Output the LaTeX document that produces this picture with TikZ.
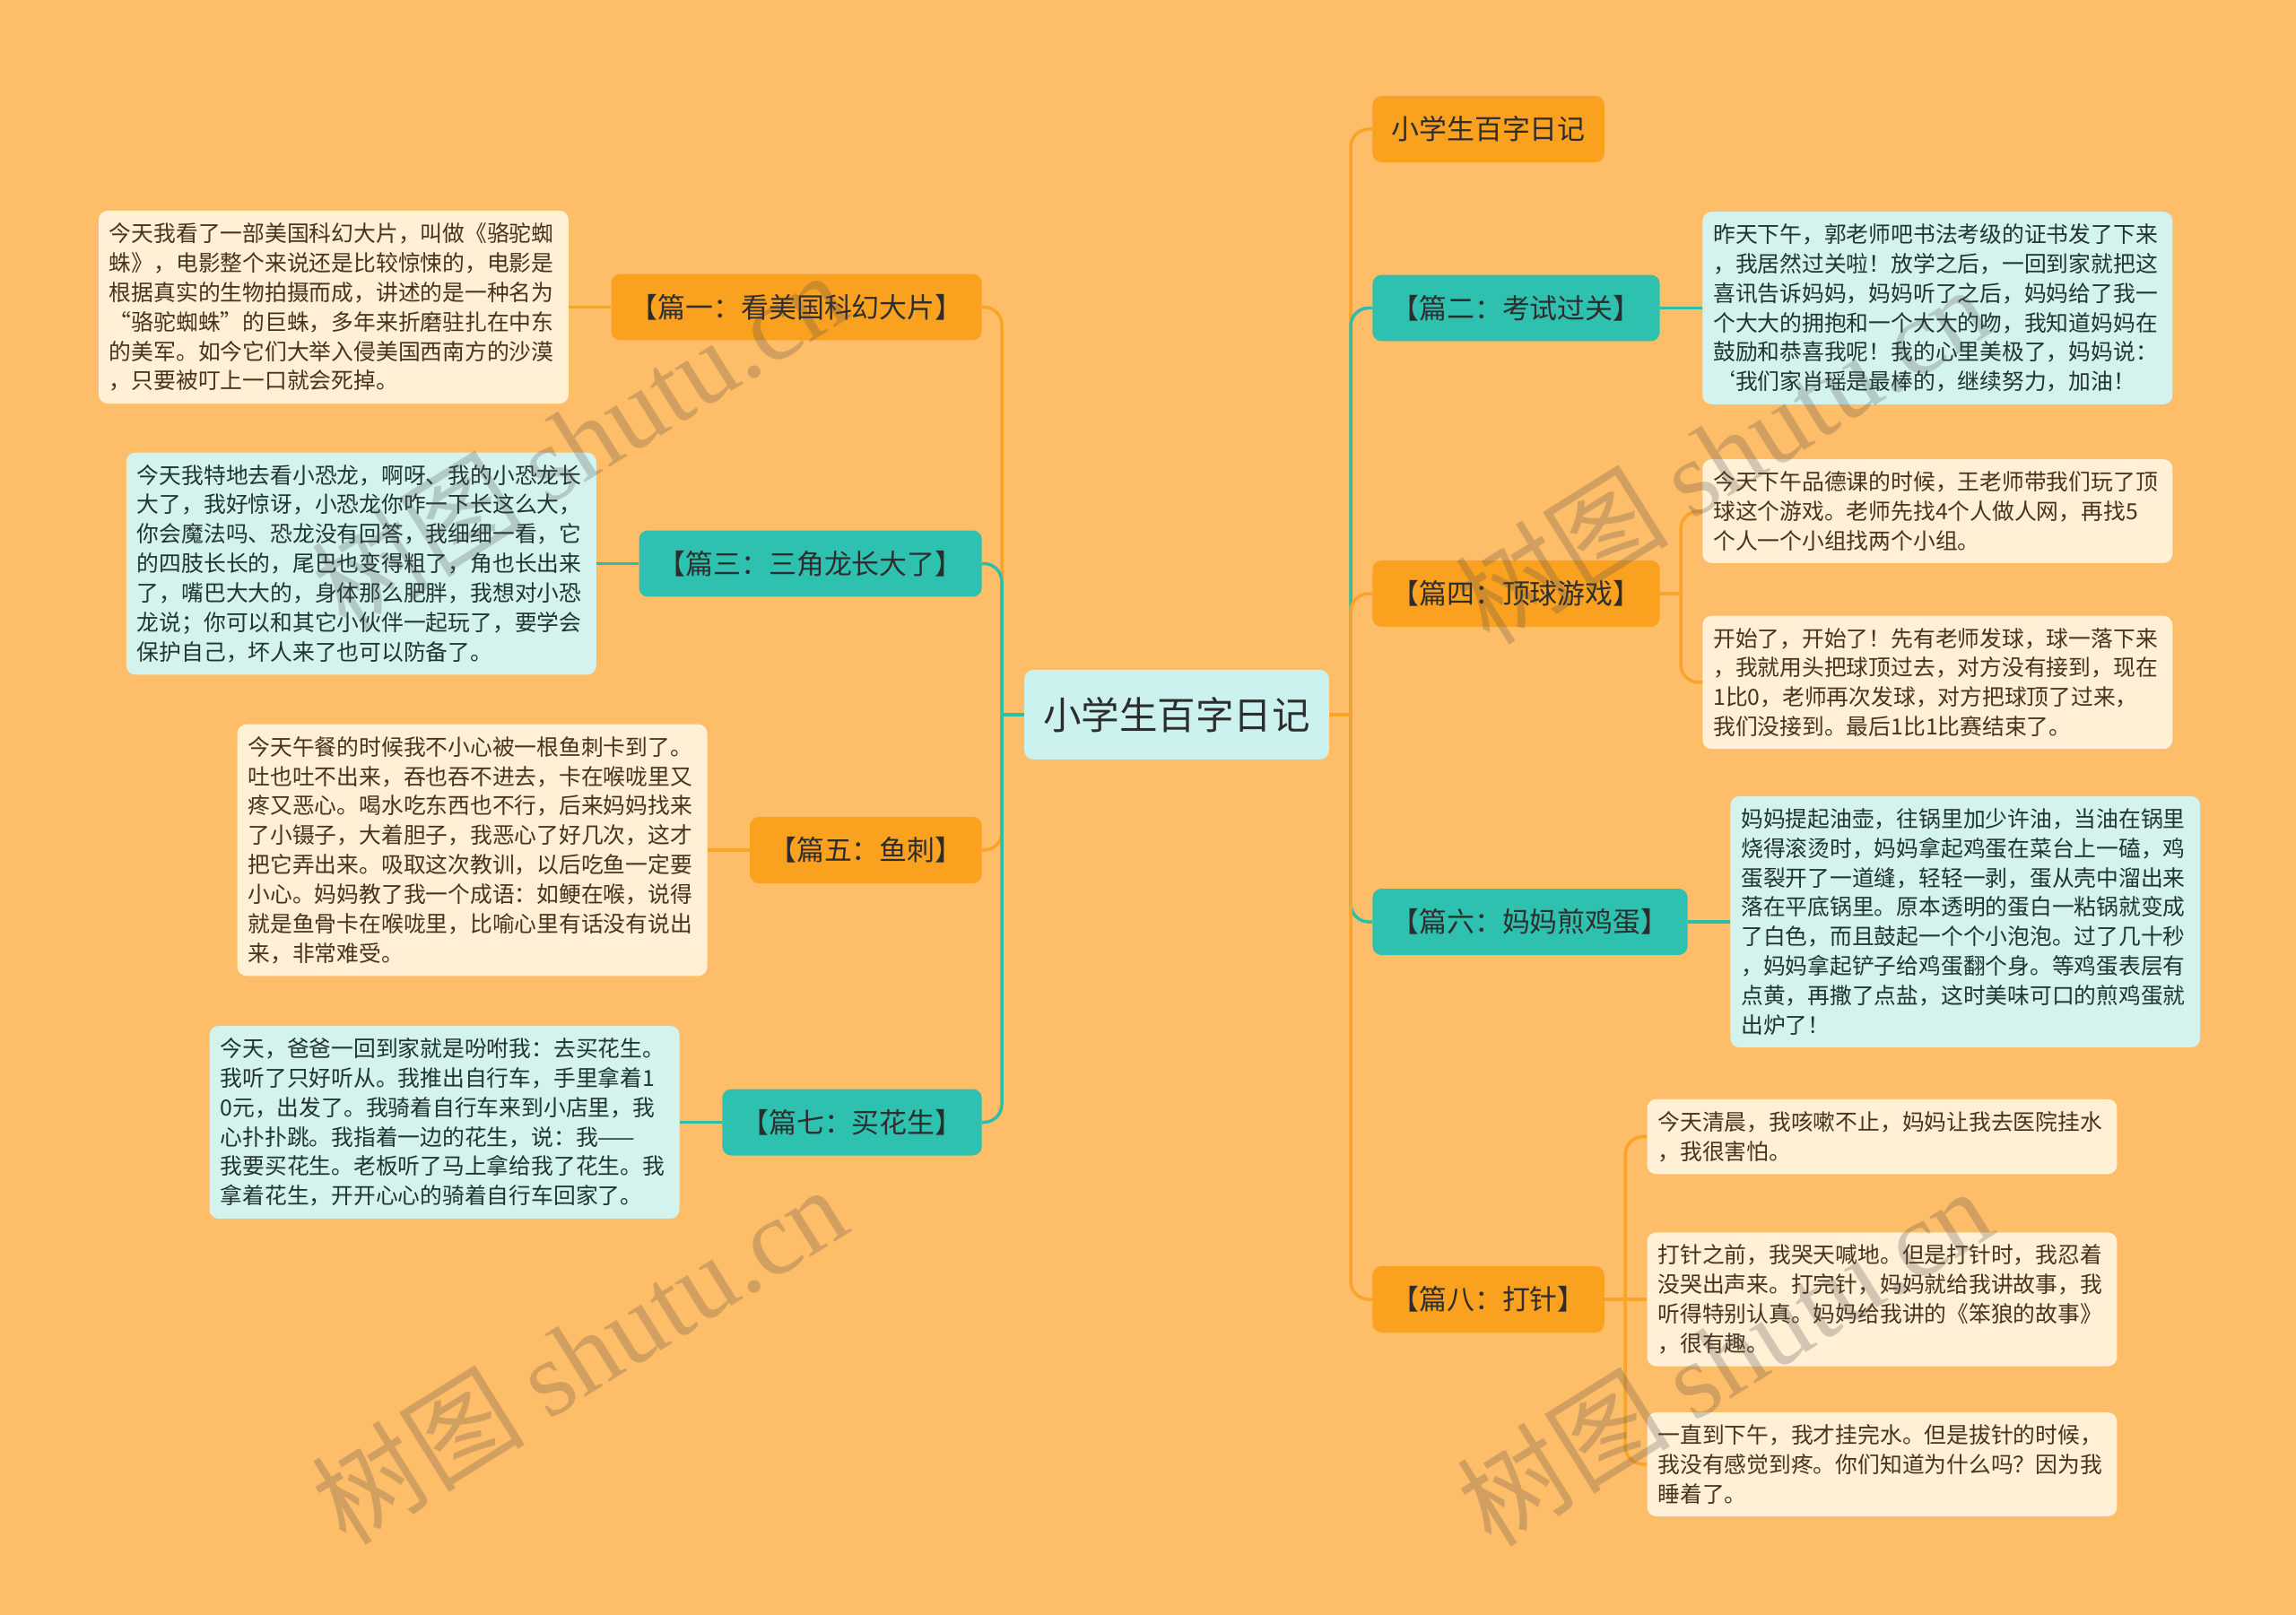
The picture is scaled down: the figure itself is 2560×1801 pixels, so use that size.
\documentclass[tikz,border=0pt]{standalone}
\usepackage{fontspec}
\setmainfont{Noto Sans CJK SC}
\newfontfamily\wmlatin{Liberation Serif}
\usetikzlibrary{positioning}
\definecolor{bgc}{RGB}{254,189,104}
\definecolor{orfill}{RGB}{250,161,32}
\definecolor{tlfill}{RGB}{46,193,176}
\definecolor{rootfill}{RGB}{204,242,239}
\definecolor{creamfill}{RGB}{255,240,214}
\definecolor{ltealfill}{RGB}{213,243,238}
\definecolor{orline}{RGB}{248,164,38}
\definecolor{tlline}{RGB}{45,190,170}
\definecolor{txtdark}{RGB}{45,45,45}
\definecolor{txtbrown}{RGB}{72,52,30}
\definecolor{txtgreen}{RGB}{32,52,48}
\tikzset{%
  topicbox/.style={fill=rootfill,text=txtdark,rounded corners=0.2cm,
    inner xsep=0.42cm,inner ysep=0pt,minimum height=2cm,
    font=\fontsize{24.2pt}{29pt}\selectfont},
  branchbox/.style={rounded corners=0.2cm,inner xsep=0.42cm,inner ysep=0pt,
    minimum height=1.48cm,text=txtdark,font=\fontsize{17.6pt}{21pt}\selectfont},
  branch o/.style={branchbox,fill=orfill},
  branch t/.style={branchbox,fill=tlfill},
  leafbox/.style={rounded corners=0.2cm,text width=10cm,align=left,
    inner xsep=0.24cm,inner ysep=0.27cm,
    font=\fontsize{14.1pt}{18.7pt}\selectfont},
  leaf o/.style={leafbox,fill=creamfill,text=txtbrown},
  leaf t/.style={leafbox,fill=ltealfill,text=txtgreen},
  link o/.style={draw=orline,line width=0.07cm},
  link t/.style={draw=tlline,line width=0.07cm},
  wmark/.style={text=black!70,text opacity=0.25,rotate=32,
    font=\fontsize{68pt}{80pt}\selectfont}%
}
\begin{document}
\begin{tikzpicture}[x=0.02cm,y=-0.02cm]

%definitions
\fill[bgc,use as bounding box] (0,0) rectangle (2560,1801);
\node[topicbox] (root) at (1312,797) {小学生百字日记};
\coordinate (jl) at (1117,797);
\coordinate (jr) at (1506,797);

%left side
\node[branch o,anchor=east] (b1) at (1095,342.5) {【篇一：看美国科幻大片】};
\node[branch t,anchor=east] (b3) at (1095,628.5) {【篇三：三角龙长大了】};
\node[branch o,anchor=east] (b5) at (1095,948) {【篇五：鱼刺】};
\node[branch t,anchor=east] (b7) at (1095,1251.5) {【篇七：买花生】};

\node[leaf o,left=0.94cm of b1] (l1) {今天我看了一部美国科幻大片，叫做《骆驼蜘\\
蛛》，电影整个来说还是比较惊悚的，电影是\\
根据真实的生物拍摄而成，讲述的是一种名为\\
“骆驼蜘蛛”的巨蛛，多年来折磨驻扎在中东\\
的美军。如今它们大举入侵美国西南方的沙漠\\
，只要被叮上一口就会死掉。};
\node[leaf t,left=0.94cm of b3] (l3) {今天我特地去看小恐龙，啊呀、我的小恐龙长\\
大了，我好惊讶，小恐龙你咋一下长这么大，\\
你会魔法吗、恐龙没有回答，我细细一看，它\\
的四肢长长的，尾巴也变得粗了，角也长出来\\
了，嘴巴大大的，身体那么肥胖，我想对小恐\\
龙说；你可以和其它小伙伴一起玩了，要学会\\
保护自己，坏人来了也可以防备了。};
\node[leaf o,left=0.94cm of b5] (l5) {今天午餐的时候我不小心被一根鱼刺卡到了。\\
吐也吐不出来，吞也吞不进去，卡在喉咙里又\\
疼又恶心。喝水吃东西也不行，后来妈妈找来\\
了小镊子，大着胆子，我恶心了好几次，这才\\
把它弄出来。吸取这次教训，以后吃鱼一定要\\
小心。妈妈教了我一个成语：如鲠在喉，说得\\
就是鱼骨卡在喉咙里，比喻心里有话没有说出\\
来，非常难受。};
\node[leaf t,left=0.94cm of b7] (l7) {今天，爸爸一回到家就是吩咐我：去买花生。\\
我听了只好听从。我推出自行车，手里拿着1\\
0元，出发了。我骑着自行车来到小店里，我\\
心扑扑跳。我指着一边的花生，说：我——\\
我要买花生。老板听了马上拿给我了花生。我\\
拿着花生，开开心心的骑着自行车回家了。};

%right side
\node[branch o,anchor=west] (r0) at (1530,144) {小学生百字日记};
\node[branch t,anchor=west] (r2) at (1530,343.5) {【篇二：考试过关】};
\node[branch o,anchor=west] (r4) at (1530,662) {【篇四：顶球游戏】};
\node[branch t,anchor=west] (r6) at (1530,1028) {【篇六：妈妈煎鸡蛋】};
\node[branch o,anchor=west] (r8) at (1530,1449) {【篇八：打针】};

\node[leaf t,right=0.94cm of r2] (l2) {昨天下午，郭老师吧书法考级的证书发了下来\\
，我居然过关啦！放学之后，一回到家就把这\\
喜讯告诉妈妈，妈妈听了之后，妈妈给了我一\\
个大大的拥抱和一个大大的吻，我知道妈妈在\\
鼓励和恭喜我呢！我的心里美极了，妈妈说：\\
‘我们家肖瑶是最棒的，继续努力，加油！};
\node[leaf o,right=0.94cm of r4,yshift=1.84cm] (l4a) {今天下午品德课的时候，王老师带我们玩了顶\\
球这个游戏。老师先找4个人做人网，再找5\\
个人一个小组找两个小组。};
\node[leaf o,right=0.94cm of r4,yshift=-1.98cm] (l4b) {开始了，开始了！先有老师发球，球一落下来\\
，我就用头把球顶过去，对方没有接到，现在\\
1比0，老师再次发球，对方把球顶了过来，\\
我们没接到。最后1比1比赛结束了。};
\node[leaf t,right=0.94cm of r6] (l6) {妈妈提起油壶，往锅里加少许油，当油在锅里\\
烧得滚烫时，妈妈拿起鸡蛋在菜台上一磕，鸡\\
蛋裂开了一道缝，轻轻一剥，蛋从壳中溜出来\\
落在平底锅里。原本透明的蛋白一粘锅就变成\\
了白色，而且鼓起一个个小泡泡。过了几十秒\\
，妈妈拿起铲子给鸡蛋翻个身。等鸡蛋表层有\\
点黄，再撒了点盐，这时美味可口的煎鸡蛋就\\
出炉了！};
\node[leaf o,right=0.94cm of r8,yshift=3.63cm] (l8a) {今天清晨，我咳嗽不止，妈妈让我去医院挂水\\
，我很害怕。};
\node[leaf o,right=0.94cm of r8] (l8b) {打针之前，我哭天喊地。但是打针时，我忍着\\
没哭出声来。打完针，妈妈就给我讲故事，我\\
听得特别认真。妈妈给我讲的《笨狼的故事》\\
，很有趣。};
\node[leaf o,right=0.94cm of r8,yshift=-3.68cm] (l8c) {一直到下午，我才挂完水。但是拔针的时候，\\
我没有感觉到疼。你们知道为什么吗？因为我\\
睡着了。};

%links
\draw[link o,rounded corners=0.4cm] (jl) |- (b1.east);
\draw[link t,rounded corners=0.4cm] (jl) |- (b3.east);
\draw[link o,rounded corners=0.4cm] (jl) |- (b5.east);
\draw[link t,rounded corners=0.4cm] (jl) |- (b7.east);
\draw[link t] (root.west) -- (jl);
\draw[link o,rounded corners=0.4cm] (jr) |- (r0.west);
\draw[link t,rounded corners=0.4cm] (jr) |- (r2.west);
\draw[link o,rounded corners=0.4cm] (jr) |- (r4.west);
\draw[link t,rounded corners=0.4cm] (jr) |- (r6.west);
\draw[link o,rounded corners=0.4cm] (jr) |- (r8.west);
\draw[link o] (root.east) -- (jr);

\draw[link o] (b1.west) -- (l1.east);
\draw[link t] (b3.west) -- (l3.east);
\draw[link o] (b5.west) -- (l5.east);
\draw[link t] (b7.west) -- (l7.east);
\draw[link t] (r2.east) -- (l2.west);
\coordinate[right=0.46cm of r4] (j4);
\draw[link o] (r4.east) -- (j4);
\draw[link o,rounded corners=0.4cm] (j4) |- (l4a.west);
\draw[link o,rounded corners=0.4cm] (j4) |- (l4b.west);
\draw[link t] (r6.east) -- (l6.west);
\coordinate[right=0.46cm of r8] (j8);
\draw[link o] (r8.east) -- (l8b.west);
\draw[link o,rounded corners=0.4cm] (j8) |- (l8a.west);
\draw[link o,rounded corners=0.4cm] (j8) |- (l8c.west);

%watermarks
\node[wmark] (wm1) at (645,490) {树图 {\wmlatin shutu.cn}};
\node[wmark] (wm2) at (645,1510) {树图 {\wmlatin shutu.cn}};
\node[wmark] (wm3) at (1920,506) {树图 {\wmlatin shutu.cn}};
\node[wmark] (wm4) at (1922,1512) {树图 {\wmlatin shutu.cn}};

\end{tikzpicture}
\end{document}
